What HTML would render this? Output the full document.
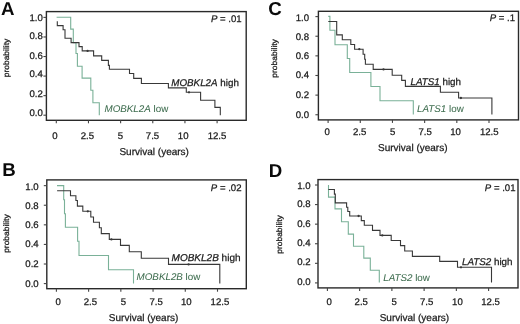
<!DOCTYPE html>
<html><head><meta charset="utf-8"><style>
html,body{margin:0;padding:0;background:#fff;}
body{width:520px;height:324px;overflow:hidden;position:relative;}
svg{position:absolute;left:0;top:0;filter:blur(0.35px);}
text{font-family:"Liberation Sans", sans-serif;text-rendering:geometricPrecision;}
.t{font-size:9.6px;fill:#1a1a1a;stroke:#1a1a1a;stroke-width:0.25px;}
.ax{font-size:10px;fill:#1a1a1a;stroke:#1a1a1a;stroke-width:0.25px;}
.pl{font-size:18.7px;font-weight:bold;fill:#0a0a0a;}
.pv{font-size:9.6px;fill:#1a1a1a;stroke:#1a1a1a;stroke-width:0.25px;}
.lb{font-size:9.8px;stroke-width:0.25px;}
.yl{font-size:7.9px;fill:#1e1e1e;stroke:#1e1e1e;stroke-width:0.28px;}
</style></head><body>
<svg width="520" height="324" viewBox="0 0 520 324">
<text x="0.9" y="15.0" class="pl" text-anchor="start" >A</text>
<rect x="46.4" y="11.6" width="199.80" height="108.70" fill="none" stroke="#2a2a2a" stroke-width="1.4"/>
<line x1="43.4" y1="115.20" x2="46.4" y2="115.20" stroke="#444" stroke-width="1.1"/>
<text x="42.8" y="116.40" text-anchor="end" class="t" >0.0</text>
<line x1="43.4" y1="95.64" x2="46.4" y2="95.64" stroke="#444" stroke-width="1.1"/>
<text x="42.8" y="96.64" text-anchor="end" class="t" >0.2</text>
<line x1="43.4" y1="76.08" x2="46.4" y2="76.08" stroke="#444" stroke-width="1.1"/>
<text x="42.8" y="77.48" text-anchor="end" class="t" >0.4</text>
<line x1="43.4" y1="56.52" x2="46.4" y2="56.52" stroke="#444" stroke-width="1.1"/>
<text x="42.8" y="58.62" text-anchor="end" class="t" >0.6</text>
<line x1="43.4" y1="36.96" x2="46.4" y2="36.96" stroke="#444" stroke-width="1.1"/>
<text x="42.8" y="39.26" text-anchor="end" class="t" >0.8</text>
<line x1="43.4" y1="17.40" x2="46.4" y2="17.40" stroke="#444" stroke-width="1.1"/>
<text x="42.8" y="20.80" text-anchor="end" class="t" >1.0</text>
<line x1="56.30" y1="120.3" x2="56.30" y2="123.3" stroke="#444" stroke-width="1.1"/>
<text x="55.00" y="138.7" text-anchor="middle" class="t" >0</text>
<line x1="88.46" y1="120.3" x2="88.46" y2="123.3" stroke="#444" stroke-width="1.1"/>
<text x="87.46" y="138.7" text-anchor="middle" class="t" >2.5</text>
<line x1="120.62" y1="120.3" x2="120.62" y2="123.3" stroke="#444" stroke-width="1.1"/>
<text x="120.32" y="138.7" text-anchor="middle" class="t" >5</text>
<line x1="152.78" y1="120.3" x2="152.78" y2="123.3" stroke="#444" stroke-width="1.1"/>
<text x="152.48" y="138.7" text-anchor="middle" class="t" >7.5</text>
<line x1="184.94" y1="120.3" x2="184.94" y2="123.3" stroke="#444" stroke-width="1.1"/>
<text x="183.14" y="138.7" text-anchor="middle" class="t" >10</text>
<line x1="217.10" y1="120.3" x2="217.10" y2="123.3" stroke="#444" stroke-width="1.1"/>
<text x="217.00" y="138.7" text-anchor="middle" class="t" >12.5</text>
<path d="M56.6,17.3 H70.7 V29.1 H73.3 V42.6 H76.0 V53.5 H77.4 V66.2 H82.1 V78.1 H90.8 V90.2 H92.9 V102.7 H99.3 V115.2" fill="none" stroke="#7ab198" stroke-width="1.1"/>
<path d="M57.3,21.3 V25.6 H63.1 V29.8 H65.0 V38.3 H71.1 V42.6 H79.0 V46.6 H82.2 V50.9 H93.6 V55.9 H101.7 V60.4 H108.4 V65.4 H109.4 V69.3 H129.5 V73.5 H133.7 V78.4 H141.4 V83.5 H168.4 V87.9 H186.3 V92.3 H200.6 V100.2 H214.9 V107.4 H220.3 V115.2" fill="none" stroke="#383838" stroke-width="1.1"/>
<circle cx="87.6" cy="50.9" r="1.15" fill="#383838"/>
<circle cx="189" cy="92.3" r="1.15" fill="#383838"/>
<text x="241.6" y="22.2" class="pv" text-anchor="end" ><tspan font-style="italic">P</tspan> = .01</text>
<text x="171.3" y="85.6" class="lb" fill="#1a1a1a" stroke="#1a1a1a" ><tspan font-style="italic">MOBKL2A</tspan> high</text>
<text x="104.5" y="111.7" class="lb" fill="#3d6c4e" stroke="#3d6c4e" style="stroke-width:0.05px" ><tspan font-style="italic">MOBKL2A</tspan> low</text>
<text x="154.2" y="155.2" class="ax" text-anchor="middle" >Survival (years)</text>
<g transform="translate(9.1 58) scale(1 1.07) rotate(-90)"><text x="0" y="0" class="yl" text-anchor="middle">probability</text></g>
<text x="268.3" y="15.1" class="pl" text-anchor="start" >C</text>
<rect x="318.4" y="11.3" width="200.10" height="108.60" fill="none" stroke="#2a2a2a" stroke-width="1.4"/>
<line x1="315.4" y1="114.75" x2="318.4" y2="114.75" stroke="#444" stroke-width="1.1"/>
<text x="309.0" y="117.75" text-anchor="end" class="t" >0.0</text>
<line x1="315.4" y1="95.12" x2="318.4" y2="95.12" stroke="#444" stroke-width="1.1"/>
<text x="309.0" y="98.12" text-anchor="end" class="t" >0.2</text>
<line x1="315.4" y1="75.49" x2="318.4" y2="75.49" stroke="#444" stroke-width="1.1"/>
<text x="309.0" y="78.49" text-anchor="end" class="t" >0.4</text>
<line x1="315.4" y1="55.86" x2="318.4" y2="55.86" stroke="#444" stroke-width="1.1"/>
<text x="309.0" y="58.86" text-anchor="end" class="t" >0.6</text>
<line x1="315.4" y1="36.23" x2="318.4" y2="36.23" stroke="#444" stroke-width="1.1"/>
<text x="309.0" y="39.93" text-anchor="end" class="t" >0.8</text>
<line x1="315.4" y1="16.60" x2="318.4" y2="16.60" stroke="#444" stroke-width="1.1"/>
<text x="309.0" y="21.40" text-anchor="end" class="t" >1.0</text>
<line x1="328.10" y1="119.9" x2="328.10" y2="122.9" stroke="#444" stroke-width="1.1"/>
<text x="327.10" y="134.8" text-anchor="middle" class="t" >0</text>
<line x1="360.28" y1="119.9" x2="360.28" y2="122.9" stroke="#444" stroke-width="1.1"/>
<text x="359.68" y="134.8" text-anchor="middle" class="t" >2.5</text>
<line x1="392.46" y1="119.9" x2="392.46" y2="122.9" stroke="#444" stroke-width="1.1"/>
<text x="392.76" y="134.8" text-anchor="middle" class="t" >5</text>
<line x1="424.64" y1="119.9" x2="424.64" y2="122.9" stroke="#444" stroke-width="1.1"/>
<text x="425.14" y="134.8" text-anchor="middle" class="t" >7.5</text>
<line x1="456.82" y1="119.9" x2="456.82" y2="122.9" stroke="#444" stroke-width="1.1"/>
<text x="455.62" y="134.8" text-anchor="middle" class="t" >10</text>
<line x1="489.00" y1="119.9" x2="489.00" y2="122.9" stroke="#444" stroke-width="1.1"/>
<text x="489.30" y="134.8" text-anchor="middle" class="t" >12.5</text>
<path d="M328.3,16.4 H329.9 V30.3 H335 V44.7 H347.3 V58.5 H349.7 V72.5 H370.9 V86.5 H380 V100.8 H413.3 V114.5" fill="none" stroke="#7ab198" stroke-width="1.1"/>
<path d="M328.3,21.5 H336.7 V34.9 H342.3 V39.7 H350.8 V44.5 H354.6 V49.2 H363.1 V54.3 H364.7 V59.3 H365.4 V64.3 H373.2 V69.4 H392.2 V75.3 H401.7 V80.4 H405.4 V86.4 H440.4 V92.2 H458.6 V98.0 H491.9 V114.4" fill="none" stroke="#383838" stroke-width="1.1"/>
<circle cx="359.3" cy="49.2" r="1.15" fill="#383838"/>
<circle cx="383.5" cy="69.4" r="1.15" fill="#383838"/>
<circle cx="460.9" cy="98.0" r="1.15" fill="#383838"/>
<text x="515.0" y="21.0" class="pv" text-anchor="end" ><tspan font-style="italic">P</tspan> = .1</text>
<text x="410.5" y="84.6" class="lb" fill="#1a1a1a" stroke="#1a1a1a" ><tspan font-style="italic">LATS1</tspan> high</text>
<text x="417.1" y="112.0" class="lb" fill="#3d6c4e" stroke="#3d6c4e" style="stroke-width:0.05px" ><tspan font-style="italic">LATS1</tspan> low</text>
<text x="412.8" y="151.3" class="ax" text-anchor="middle" >Survival (years)</text>
<g transform="translate(277.1 58.4) scale(1 1.07) rotate(-90)"><text x="0" y="0" class="yl" text-anchor="middle">probability</text></g>
<text x="2.2" y="175.5" class="pl" text-anchor="start" >B</text>
<rect x="46.8" y="179.9" width="199.50" height="108.80" fill="none" stroke="#2a2a2a" stroke-width="1.4"/>
<line x1="43.8" y1="283.60" x2="46.8" y2="283.60" stroke="#444" stroke-width="1.1"/>
<text x="38.7" y="287.20" text-anchor="end" class="t" >0.0</text>
<line x1="43.8" y1="264.01" x2="46.8" y2="264.01" stroke="#444" stroke-width="1.1"/>
<text x="38.7" y="267.01" text-anchor="end" class="t" >0.2</text>
<line x1="43.8" y1="244.42" x2="46.8" y2="244.42" stroke="#444" stroke-width="1.1"/>
<text x="38.7" y="247.42" text-anchor="end" class="t" >0.4</text>
<line x1="43.8" y1="224.83" x2="46.8" y2="224.83" stroke="#444" stroke-width="1.1"/>
<text x="38.7" y="227.83" text-anchor="end" class="t" >0.6</text>
<line x1="43.8" y1="205.24" x2="46.8" y2="205.24" stroke="#444" stroke-width="1.1"/>
<text x="38.7" y="208.84" text-anchor="end" class="t" >0.8</text>
<line x1="43.8" y1="185.65" x2="46.8" y2="185.65" stroke="#444" stroke-width="1.1"/>
<text x="38.7" y="190.15" text-anchor="end" class="t" >1.0</text>
<line x1="56.40" y1="288.7" x2="56.40" y2="291.7" stroke="#444" stroke-width="1.1"/>
<text x="58.20" y="304.6" text-anchor="middle" class="t" >0</text>
<line x1="88.62" y1="288.7" x2="88.62" y2="291.7" stroke="#444" stroke-width="1.1"/>
<text x="90.42" y="304.6" text-anchor="middle" class="t" >2.5</text>
<line x1="120.84" y1="288.7" x2="120.84" y2="291.7" stroke="#444" stroke-width="1.1"/>
<text x="123.34" y="304.6" text-anchor="middle" class="t" >5</text>
<line x1="153.06" y1="288.7" x2="153.06" y2="291.7" stroke="#444" stroke-width="1.1"/>
<text x="156.06" y="304.6" text-anchor="middle" class="t" >7.5</text>
<line x1="185.28" y1="288.7" x2="185.28" y2="291.7" stroke="#444" stroke-width="1.1"/>
<text x="186.38" y="304.6" text-anchor="middle" class="t" >10</text>
<line x1="217.50" y1="288.7" x2="217.50" y2="291.7" stroke="#444" stroke-width="1.1"/>
<text x="219.90" y="304.6" text-anchor="middle" class="t" >12.5</text>
<path d="M57,185.6 H63.7 V199.7 H64.5 V213.8 H65.4 V227.2 H77.6 V241.2 H79 V255.5 H108.5 V269.7 H133.5 V283.5" fill="none" stroke="#7ab198" stroke-width="1.1"/>
<path d="M57.1,190.7 H70.5 V195.8 H75.9 V200.5 H77.4 V206.1 H82.8 V211.3 H90.8 V217 H93.5 V222.2 H99.4 V227.8 H101.3 V233.6 H109.3 V239.4 H120.5 V245.4 H129.3 V251.8 H141.3 V258.3 H168.5 V264.4 H219.8 V283.5" fill="none" stroke="#383838" stroke-width="1.1"/>
<circle cx="87.8" cy="211.3" r="1.15" fill="#383838"/>
<circle cx="111.4" cy="239.4" r="1.15" fill="#383838"/>
<circle cx="188.6" cy="264.4" r="1.15" fill="#383838"/>
<text x="241.5" y="190.7" class="pv" text-anchor="end" ><tspan font-style="italic">P</tspan> = .02</text>
<text x="171.6" y="261.4" class="lb" fill="#1a1a1a" stroke="#1a1a1a" style="font-size:10.0px" ><tspan font-style="italic">MOBKL2B</tspan> high</text>
<text x="136.6" y="280.3" class="lb" fill="#3d6c4e" stroke="#3d6c4e" style="stroke-width:0.05px" ><tspan font-style="italic">MOBKL2B</tspan> low</text>
<text x="143.6" y="321.2" class="ax" text-anchor="middle" >Survival (years)</text>
<g transform="translate(8.9 233.6) scale(1 1.07) rotate(-90)"><text x="0" y="0" class="yl" text-anchor="middle">probability</text></g>
<text x="268.65" y="177.3" class="pl" text-anchor="start" >D</text>
<rect x="318.0" y="179.6" width="200.00" height="108.30" fill="none" stroke="#2a2a2a" stroke-width="1.4"/>
<line x1="315.0" y1="282.90" x2="318.0" y2="282.90" stroke="#444" stroke-width="1.1"/>
<text x="310.6" y="285.20" text-anchor="end" class="t" >0.0</text>
<line x1="315.0" y1="263.32" x2="318.0" y2="263.32" stroke="#444" stroke-width="1.1"/>
<text x="310.6" y="265.12" text-anchor="end" class="t" >0.2</text>
<line x1="315.0" y1="243.74" x2="318.0" y2="243.74" stroke="#444" stroke-width="1.1"/>
<text x="310.6" y="245.74" text-anchor="end" class="t" >0.4</text>
<line x1="315.0" y1="224.16" x2="318.0" y2="224.16" stroke="#444" stroke-width="1.1"/>
<text x="310.6" y="226.66" text-anchor="end" class="t" >0.6</text>
<line x1="315.0" y1="204.58" x2="318.0" y2="204.58" stroke="#444" stroke-width="1.1"/>
<text x="310.6" y="206.78" text-anchor="end" class="t" >0.8</text>
<line x1="315.0" y1="185.00" x2="318.0" y2="185.00" stroke="#444" stroke-width="1.1"/>
<text x="310.6" y="188.50" text-anchor="end" class="t" >1.0</text>
<line x1="327.40" y1="287.9" x2="327.40" y2="290.9" stroke="#444" stroke-width="1.1"/>
<text x="329.20" y="304.6" text-anchor="middle" class="t" >0</text>
<line x1="359.64" y1="287.9" x2="359.64" y2="290.9" stroke="#444" stroke-width="1.1"/>
<text x="361.24" y="304.6" text-anchor="middle" class="t" >2.5</text>
<line x1="391.88" y1="287.9" x2="391.88" y2="290.9" stroke="#444" stroke-width="1.1"/>
<text x="394.28" y="304.6" text-anchor="middle" class="t" >5</text>
<line x1="424.12" y1="287.9" x2="424.12" y2="290.9" stroke="#444" stroke-width="1.1"/>
<text x="426.62" y="304.6" text-anchor="middle" class="t" >7.5</text>
<line x1="456.36" y1="287.9" x2="456.36" y2="290.9" stroke="#444" stroke-width="1.1"/>
<text x="457.46" y="304.6" text-anchor="middle" class="t" >10</text>
<line x1="488.60" y1="287.9" x2="488.60" y2="290.9" stroke="#444" stroke-width="1.1"/>
<text x="490.60" y="304.6" text-anchor="middle" class="t" >12.5</text>
<path d="M328.5,185 V197.1 H335 V208.9 H341.5 V221.8 H348.3 V234.1 H353.5 V246.2 H363.8 V258.1 H370.3 V270.3 H379.3 V282.5" fill="none" stroke="#7ab198" stroke-width="1.1"/>
<path d="M328.4,189.5 H334.4 V194.1 H335.3 V202.9 H346.6 V207.3 H347.8 V211.5 H349.7 V216 H361.3 V220.6 H364.3 V225.2 H372.5 V230.4 H380 V235.4 H391.2 V240.5 H400.5 V245.6 H404.7 V251 H412.4 V256.4 H439.7 V261.4 H457.5 V267.3 H491.5 V282.6" fill="none" stroke="#383838" stroke-width="1.1"/>
<circle cx="358.6" cy="216" r="1.15" fill="#383838"/>
<circle cx="382.3" cy="235.4" r="1.15" fill="#383838"/>
<circle cx="461" cy="267.3" r="1.15" fill="#383838"/>
<text x="515.5" y="190.6" class="pv" text-anchor="end" ><tspan font-style="italic">P</tspan> = .01</text>
<text x="462.0" y="264.7" class="lb" fill="#1a1a1a" stroke="#1a1a1a" ><tspan font-style="italic">LATS2</tspan> high</text>
<text x="383.2" y="280.9" class="lb" fill="#3d6c4e" stroke="#3d6c4e" style="stroke-width:0.05px" ><tspan font-style="italic">LATS2</tspan> low</text>
<text x="414.4" y="321.2" class="ax" text-anchor="middle" >Survival (years)</text>
<g transform="translate(281.6 234.5) scale(1 1.07) rotate(-90)"><text x="0" y="0" class="yl" text-anchor="middle">probability</text></g>
</svg>
</body></html>
